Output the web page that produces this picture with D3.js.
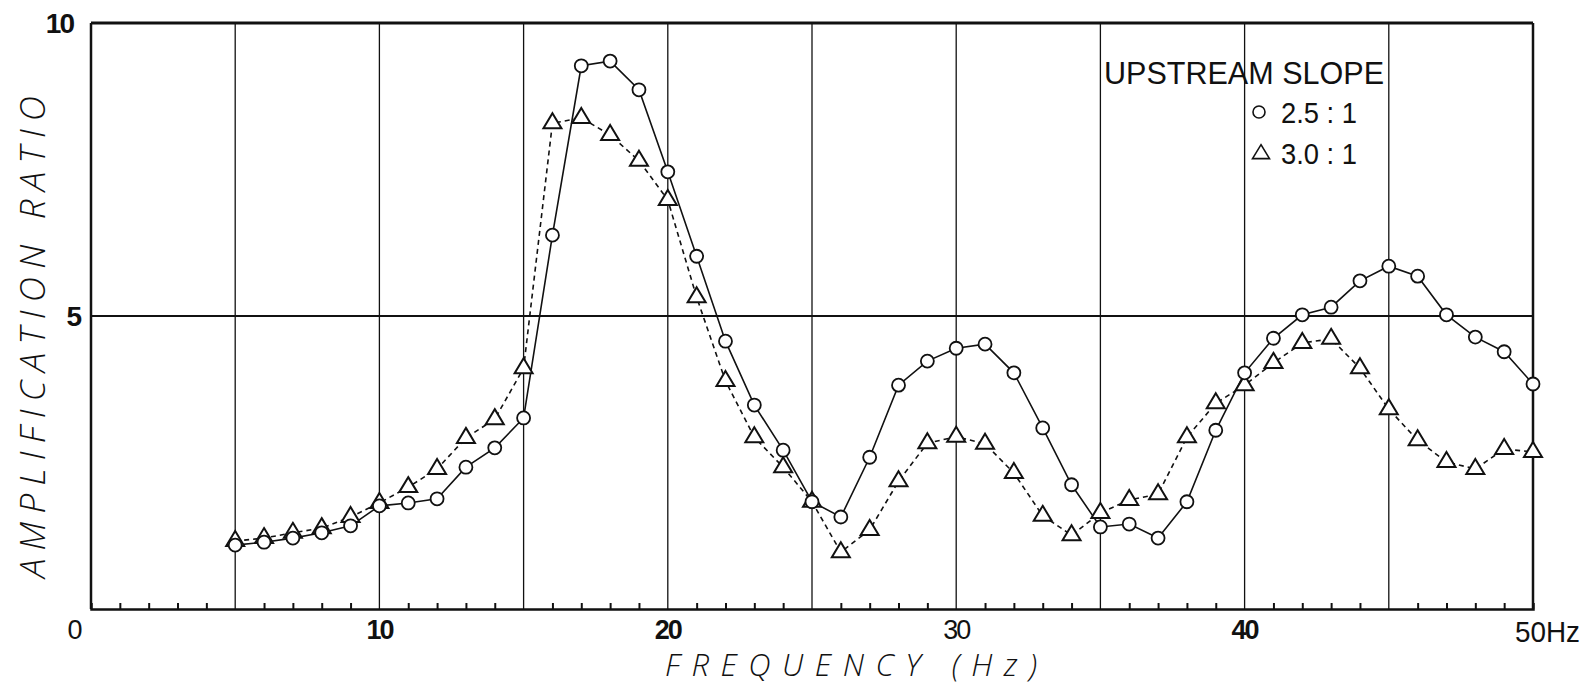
<!DOCTYPE html>
<html><head><meta charset="utf-8">
<script src="https://cdn.jsdelivr.net/npm/d3@7/dist/d3.min.js"></script>
<style>
html,body{margin:0;padding:0;background:#fff;}
svg{display:block;}
</style></head>
<body>
<svg id="chart" width="1590" height="688"></svg>
<script>
const frequency = [5,6,7,8,9,10,11,12,13,14,15,16,17,18,19,20,21,22,23,24,25,26,27,28,29,30,31,32,33,34,35,36,37,38,39,40,41,42,43,44,45,46,47,48,49,50];
const slope25 = [1.09,1.14,1.21,1.30,1.42,1.76,1.81,1.88,2.42,2.75,3.26,6.38,9.27,9.35,8.86,7.46,6.02,4.57,3.48,2.71,1.83,1.57,2.59,3.82,4.23,4.45,4.52,4.03,3.09,2.12,1.40,1.45,1.21,1.83,3.05,4.03,4.62,5.02,5.15,5.60,5.85,5.68,5.02,4.64,4.39,3.84];
const slope30 = [1.16,1.21,1.30,1.38,1.57,1.81,2.08,2.39,2.92,3.24,4.11,8.29,8.38,8.09,7.65,6.98,5.32,3.89,2.93,2.42,1.83,0.97,1.35,2.18,2.83,2.94,2.82,2.32,1.59,1.26,1.64,1.86,1.96,2.93,3.51,3.82,4.20,4.54,4.61,4.11,3.41,2.88,2.51,2.39,2.73,2.68];
const xMajorTicks = [0,10,20,30,40];
const xTickLabels = ["0","10","20","30","40"];
const xLastLabel = "50Hz";
const xGrid = [5,10,15,20,25,30,35,40,45];
const xMinor = [1,2,3,4,6,7,8,9,11,12,13,14,16,17,18,19,21,22,23,24,26,27,28,29,31,32,33,34,36,37,38,39,41,42,43,44,46,47,48,49];
const yTicks = [5,10];
const yGrid = [5];
const legendTitle = "UPSTREAM  SLOPE";
const legendLabels = ["2.5 : 1","3.0 : 1"];
const xTitle = "FREQUENCY  (Hz)";
const yTitle = "AMPLIFICATION  RATIO";

const svg = d3.select("#chart");
const x = d3.scaleLinear().domain([0,50]).range([91,1533]);
const y = d3.scaleLinear().domain([0,10]).range([609,23]);
const ink = "#111";

// grid
svg.append("g").selectAll("line").data(xGrid).join("line")
  .attr("x1",d=>x(d)).attr("x2",d=>x(d)).attr("y1",y(10)).attr("y2",y(0))
  .attr("stroke",ink).attr("stroke-width",1.3);
svg.append("g").selectAll("line").data(yGrid).join("line")
  .attr("x1",x(0)).attr("x2",x(50)).attr("y1",d=>y(d)).attr("y2",d=>y(d))
  .attr("stroke",ink).attr("stroke-width",2);

// frame
svg.append("line").attr("x1",x(0)).attr("x2",x(50)).attr("y1",y(10)).attr("y2",y(10)).attr("stroke",ink).attr("stroke-width",3);
svg.append("line").attr("x1",x(0)).attr("x2",x(0)).attr("y1",y(10)).attr("y2",y(0)).attr("stroke",ink).attr("stroke-width",2.5);
svg.append("line").attr("x1",x(50)).attr("x2",x(50)).attr("y1",y(10)).attr("y2",y(0)).attr("stroke",ink).attr("stroke-width",2.5);

// bottom axis with minor ticks
const xAxis = d3.axisBottom(x).tickValues(xMinor).tickSize(-6).tickFormat("");
const gx = svg.append("g").attr("transform",`translate(0,${y(0)})`).call(xAxis);
gx.select(".domain").attr("stroke",ink).attr("stroke-width",2.5);
gx.selectAll(".tick line").attr("stroke",ink).attr("stroke-width",2);

// x tick labels
svg.append("g").selectAll("text").data(xMajorTicks).join("text")
  .attr("x",d=>x(d)-(d===0?17:0)).attr("y",y(0)+30)
  .attr("text-anchor","middle")
  .attr("font-family","'Liberation Sans', Arial, sans-serif")
  .attr("font-size",27).attr("font-weight",d=>d===0||d===30?"normal":"bold")
  .attr("letter-spacing",-2)
  .attr("fill",ink)
  .text((d,i)=>xTickLabels[i]);
svg.append("text").attr("x",x(50)-18).attr("y",y(0)+33)
  .attr("font-family","'Liberation Sans', Arial, sans-serif")
  .attr("font-size",30).attr("fill",ink)
  .attr("textLength",65).attr("lengthAdjust","spacingAndGlyphs")
  .text(xLastLabel);

// y tick labels
svg.append("g").selectAll("text").data(yTicks).join("text")
  .attr("x",d=>d===10?73:80).attr("y",d=>y(d)+10)
  .attr("text-anchor","end")
  .attr("font-family","'Liberation Sans', Arial, sans-serif")
  .attr("font-size",28).attr("font-weight","bold").attr("letter-spacing",-2)
  .attr("fill",ink)
  .text(d=>d);

// axis titles
svg.append("text").attr("x",665).attr("y",676)
  .attr("font-family","'Open Sans','DejaVu Sans',sans-serif")
  .attr("font-style","italic").attr("font-weight",300)
  .attr("font-size",31).attr("fill",ink)
  .attr("textLength",372).attr("lengthAdjust","spacing")
  .text(xTitle);
svg.append("text").attr("transform","translate(45,578) rotate(-90)")
  .attr("font-family","'Open Sans','DejaVu Sans',sans-serif")
  .attr("font-style","italic").attr("font-weight",300)
  .attr("font-size",35).attr("fill",ink)
  .attr("textLength",482).attr("lengthAdjust","spacing")
  .text(yTitle);

// series lines
const line = d3.line().x((d,i)=>x(frequency[i])).y(d=>y(d));
svg.append("path").datum(slope30).attr("d",line).attr("fill","none")
  .attr("stroke",ink).attr("stroke-width",1.6).attr("stroke-dasharray","5,4");
svg.append("path").datum(slope25).attr("d",line).attr("fill","none")
  .attr("stroke",ink).attr("stroke-width",1.6);

// markers
const triPath = (w,h)=>`M0,${-h*2/3}L${w/2},${h/3}L${-w/2},${h/3}Z`;
svg.append("g").selectAll("path").data(slope30).join("path")
  .attr("transform",(d,i)=>`translate(${x(frequency[i])},${y(d)})`)
  .attr("d",triPath(18,15))
  .attr("fill","#fff").attr("stroke",ink).attr("stroke-width",2);
svg.append("g").selectAll("circle").data(slope25).join("circle")
  .attr("cx",(d,i)=>x(frequency[i])).attr("cy",d=>y(d)).attr("r",6.5)
  .attr("fill","#fff").attr("stroke",ink).attr("stroke-width",1.8);

// legend (no background: grid lines run through it as in the original)
svg.append("text").attr("x",1104).attr("y",84)
  .attr("font-family","'Liberation Sans', Arial, sans-serif")
  .attr("font-size",32).attr("fill",ink)
  .attr("textLength",280).attr("lengthAdjust","spacingAndGlyphs")
  .text(legendTitle);
svg.append("circle").attr("cx",1259).attr("cy",112).attr("r",6).attr("fill","#fff").attr("stroke",ink).attr("stroke-width",1.6);
svg.append("path").attr("transform","translate(1261,154)").attr("d",triPath(17,14)).attr("fill","#fff").attr("stroke",ink).attr("stroke-width",1.6);
svg.append("g").selectAll("text").data(legendLabels).join("text")
  .attr("x",1281).attr("y",(d,i)=>123+i*41)
  .attr("font-family","'Liberation Sans', Arial, sans-serif")
  .attr("font-size",29).attr("fill",ink)
  .attr("textLength",76).attr("lengthAdjust","spacingAndGlyphs")
  .text(d=>d);
</script>
</body></html>
